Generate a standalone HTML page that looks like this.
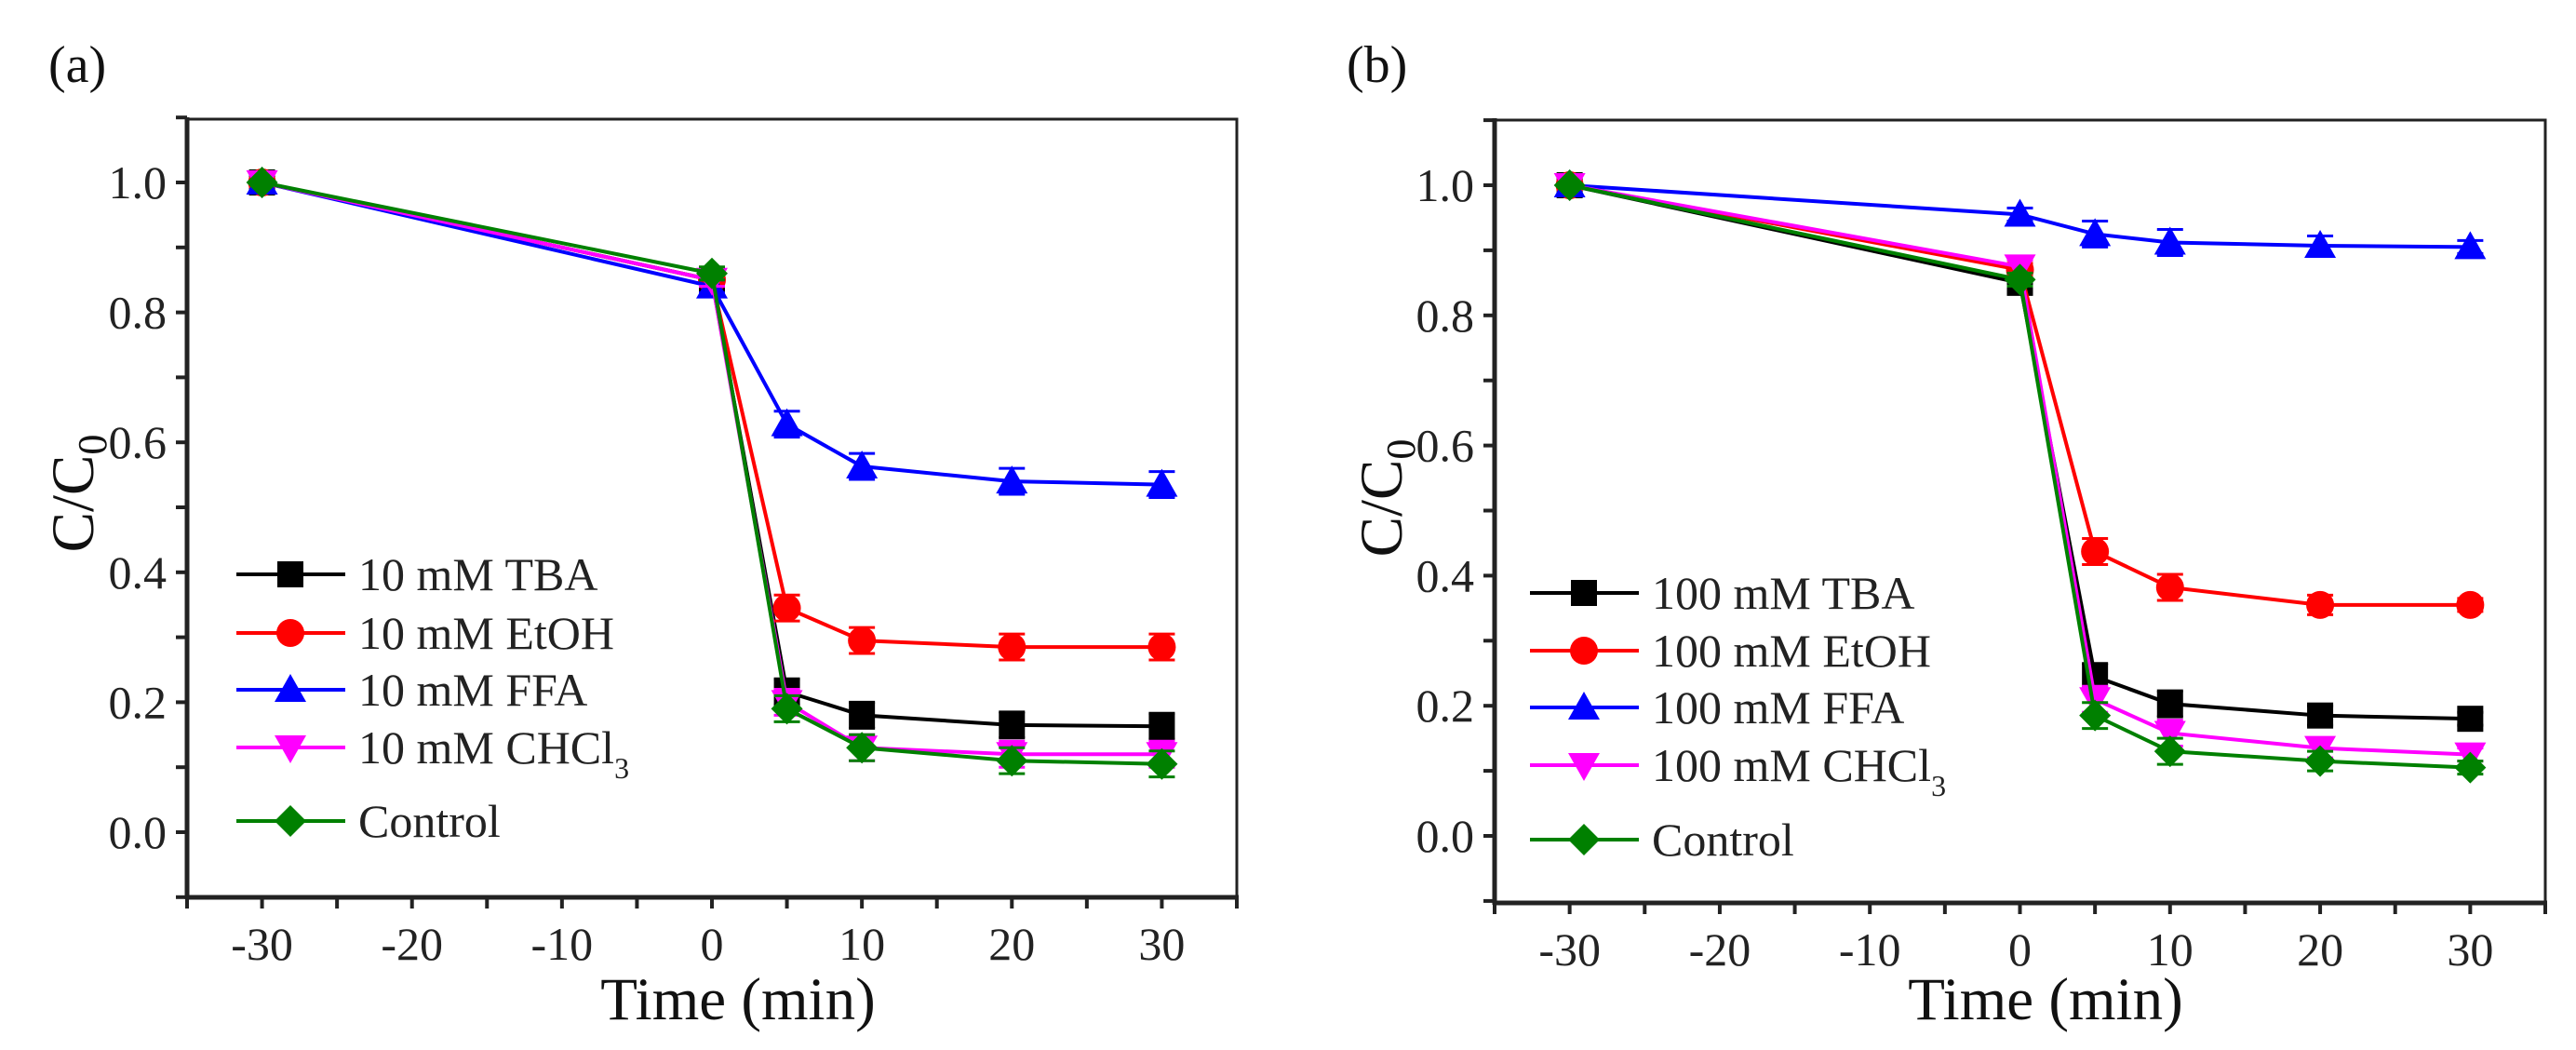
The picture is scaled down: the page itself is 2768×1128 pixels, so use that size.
<!DOCTYPE html>
<html><head><meta charset="utf-8">
<style>
html,body{margin:0;padding:0;background:#fff;}
svg{display:block;font-family:"Liberation Serif",serif;}
svg text{font-family:"Liberation Serif",serif;}
</style></head>
<body>
<svg id="fig" width="2768" height="1128" viewBox="0 0 2768 1128" xmlns="http://www.w3.org/2000/svg"></svg>
<script>
// ---- data ----
const times = [-30, 0, 5, 10, 20, 30];
const xTickLabels = ["-30","-20","-10","0","10","20","30"];
const yTickLabels = ["0.0","0.2","0.4","0.6","0.8","1.0"];
const seriesColors = ["#000000","#ff0000","#0000ff","#ff00ff","#008000"];
const seriesMarkers = ["square","circle","triangle","tridown","diamond"];
// panel a
const aNames = ["10 mM TBA","10 mM EtOH","10 mM FFA","10 mM CHCl","Control"];
const aTBA  = [1.0, 0.85, 0.216, 0.18, 0.165, 0.163];
const aEtOH = [1.0, 0.85, 0.345, 0.295, 0.285, 0.285];
const aFFA  = [1.0, 0.84, 0.628, 0.563, 0.54, 0.535];
const aCHCl = [1.0, 0.85, 0.20, 0.13, 0.12, 0.12];
const aCtrl = [1.0, 0.86, 0.19, 0.13, 0.11, 0.105];
const aErr  = [0.0, 0.01, 0.02, 0.02, 0.02, 0.02];
// panel b
const bNames = ["100 mM TBA","100 mM EtOH","100 mM FFA","100 mM CHCl","Control"];
const bTBA  = [1.0, 0.85, 0.245, 0.203, 0.185, 0.18];
const bEtOH = [1.0, 0.87, 0.437, 0.382, 0.355, 0.355];
const bFFA  = [1.0, 0.955, 0.925, 0.912, 0.907, 0.905];
const bCHCl = [1.0, 0.875, 0.21, 0.158, 0.135, 0.125];
const bCtrl = [1.0, 0.855, 0.185, 0.13, 0.115, 0.105];
const bErr  = [0.0, 0.01, 0.02, 0.02, 0.015, 0.01];

const NS = "http://www.w3.org/2000/svg";
const FONT = '"Liberation Serif", serif';
const svg = document.getElementById("fig");
function mk(tag, attrs, parent){
  const e = document.createElementNS(NS, tag);
  for (const k in attrs) e.setAttribute(k, attrs[k]);
  if (tag === "text") e.setAttribute("font-family", FONT);
  (parent||svg).appendChild(e);
  return e;
}
function marker(g, type, cx, cy, color){
  const s = 14;
  let e;
  if (type==="square") e = mk("rect",{x:cx-s,y:cy-s,width:2*s,height:2*s,fill:color},g);
  else if (type==="circle") e = mk("circle",{cx:cx,cy:cy,r:s+1,fill:color},g);
  else if (type==="triangle") e = mk("polygon",{points:`${cx},${cy-s-3} ${cx+s+3},${cy+s-1} ${cx-s-3},${cy+s-1}`,fill:color},g);
  else if (type==="tridown") e = mk("polygon",{points:`${cx},${cy+s+3} ${cx+s+3},${cy-s+1} ${cx-s-3},${cy-s+1}`,fill:color},g);
  else e = mk("polygon",{points:`${cx},${cy-s-3} ${cx+s+3},${cy} ${cx},${cy+s+3} ${cx-s-3},${cy}`,fill:color},g);
  return e;
}

function panel(cfg){
  const {id,left,right,top,bottom,y1,y0,label,labelX,yLabelX,yLabelY,series,names,err,legX,legRows,timeX} = cfg;
  const g = mk("g",{});
  
  
  const xs = t => left + (t+35)*(right-left)/70;
  const ys = v => y0 - v*(y0-y1);
  const pl = mk("text",{x:labelX,y:88,"font-size":56,fill:"#111"},g);
  pl.textContent = label;
  
  
  const fr = mk("rect",{x:left,y:top,width:right-left,height:bottom-top,fill:"none",stroke:"#222","stroke-width":3},g);
  
  
  mk("line",{x1:left,y1:top-2,x2:left,y2:bottom+2,stroke:"#222","stroke-width":5},g);
  mk("line",{x1:left-2,y1:bottom,x2:right+2,y2:bottom,stroke:"#222","stroke-width":5},g);
  for (let i=-1;i<=11;i++){
    const v=i/10, y=ys(v);
    mk("line",{x1:left-12,y1:y,x2:left,y2:y,stroke:"#222","stroke-width":4},g);
  }
  yTickLabels.forEach((s,i)=>{
    const t = mk("text",{x:left-22,y:ys(parseFloat(s))+17,"font-size":50,"text-anchor":"end",fill:"#222"},g);
    t.textContent = s;
    
    
  });
  for (let tv=-35; tv<=35; tv+=5){
    const x=xs(tv);
    mk("line",{x1:x,y1:bottom,x2:x,y2:bottom+12,stroke:"#222","stroke-width":4},g);
  }
  xTickLabels.forEach(s=>{
    const t = mk("text",{x:xs(parseFloat(s)),y:bottom+67,"font-size":50,"text-anchor":"middle",fill:"#222"},g);
    t.textContent = s;
    
    
  });
  const xt = mk("text",{x:timeX,y:1095,"font-size":65,"text-anchor":"middle",fill:"#111"},g);
  xt.textContent = "Time (min)";
  
  
  const yt = mk("text",{x:0,y:0,"font-size":65,"text-anchor":"middle",fill:"#111",transform:`translate(${yLabelX},${yLabelY}) rotate(-90)`},g);
  yt.innerHTML = 'C/C<tspan font-size="44" dy="14">0</tspan>';
  
  
  series.forEach((vals,si)=>{
    const sg = mk("g",{},g);
    
    
    const c = seriesColors[si];
    const pts = vals.map((v,i)=>`${xs(times[i])},${ys(v)}`).join(" ");
    mk("polyline",{points:pts,fill:"none",stroke:c,"stroke-width":4},sg);
    vals.forEach((v,i)=>{
      const x=xs(times[i]), y=ys(v), e=err[i]*(y0-y1);
      if (e>0){
        mk("line",{x1:x,y1:y-e,x2:x,y2:y+e,stroke:c,"stroke-width":3},sg);
        mk("line",{x1:x-14,y1:y-e,x2:x+14,y2:y-e,stroke:c,"stroke-width":3},sg);
        mk("line",{x1:x-14,y1:y+e,x2:x+14,y2:y+e,stroke:c,"stroke-width":3},sg);
      }
      const m = marker(sg, seriesMarkers[si], x, y, c);
      
      
    });
  });
  const lg = mk("g",{},g);
  
  
  names.forEach((n,si)=>{
    const y = legRows[si], c = seriesColors[si];
    const eg = mk("g",{},lg);
    
    
    mk("line",{x1:legX,y1:y,x2:legX+117,y2:y,stroke:c,"stroke-width":4},eg);
    marker(eg, seriesMarkers[si], legX+58, y, c);
    const t = mk("text",{x:legX+131,y:y+17,"font-size":50,fill:"#222"},eg);
    if (n.endsWith("CHCl")) t.innerHTML = n + '<tspan font-size="32" dy="16">3</tspan>';
    else t.textContent = n;
  });
}

panel({id:"panel-a",left:201,right:1329,top:128,bottom:964,y1:196,y0:894,label:"(a)",labelX:52,
  yLabelX:100,yLabelY:530,series:[aTBA,aEtOH,aFFA,aCHCl,aCtrl],names:aNames,err:aErr,
  legX:254,legRows:[617,680,741,803,882],timeX:793});
panel({id:"panel-b",left:1606,right:2735,top:129,bottom:970,y1:199,y0:898,label:"(b)",labelX:1447,
  yLabelX:1506,yLabelY:535,series:[bTBA,bEtOH,bFFA,bCHCl,bCtrl],names:bNames,err:bErr,
  legX:1644,legRows:[637,699,760,822,902],timeX:2198});
</script>
</body></html>
